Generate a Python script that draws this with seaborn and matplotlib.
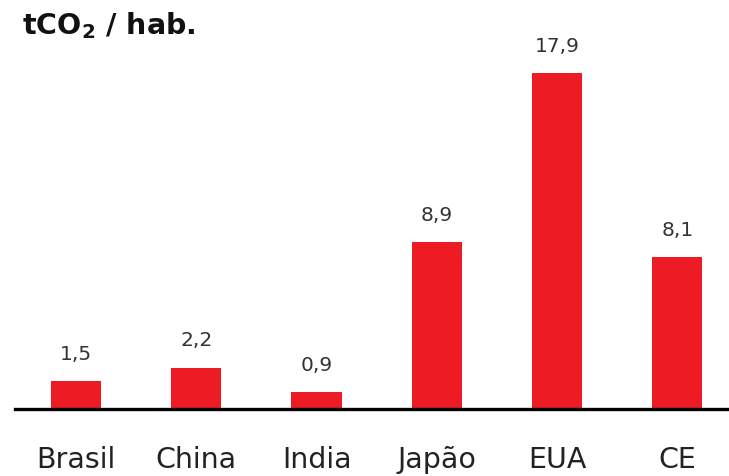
import matplotlib
matplotlib.use("Agg")
import matplotlib.pyplot as plt
import seaborn as sns
import pandas as pd

categories = ["Brasil", "China", "India", "Japão", "EUA", "CE"]
values = [1.5, 2.2, 0.9, 8.9, 17.9, 8.1]
value_labels = ["1,5", "2,2", "0,9", "8,9", "17,9", "8,1"]
title = r"tCO$_\mathbf{2}$ / hab."

sns.set_theme(style="white")
plt.rcParams["font.family"] = ["DejaVu Sans"]
plt.rcParams["mathtext.fontset"] = "dejavusans"

df = pd.DataFrame({"pais": categories, "valor": values})

fig = plt.figure(figsize=(7.29, 4.77), dpi=100)
ax = fig.add_axes([15 / 729, 67 / 477, 714 / 729, 370 / 477])

sns.barplot(data=df, x="pais", y="valor", color="#ED1C24", saturation=1,
            width=0.417, ax=ax, edgecolor="none")

ax.set_xlim(-0.508, 5.43)
ax.set_ylim(0, 19.7)
ax.set_xlabel("")
ax.set_ylabel("")
ax.set_yticks([])
for s in ["top", "left", "right"]:
    ax.spines[s].set_visible(False)
ax.spines["bottom"].set_color("black")
ax.spines["bottom"].set_linewidth(2.4)
ax.tick_params(axis="x", length=0, pad=26, labelsize=20.5, labelcolor="#222222")

for i, (v, lab) in enumerate(zip(values, value_labels)):
    ax.annotate(lab, xy=(i, v), xytext=(0, 20), textcoords="offset points",
                ha="center", va="center", fontsize=14.5, color="#333333")

fig.text(22 / 729, 1 - 26 / 477, title, ha="left", va="center",
         fontsize=20.5, fontweight="bold", color="#111111")

fig.savefig("out.png", dpi=100)
